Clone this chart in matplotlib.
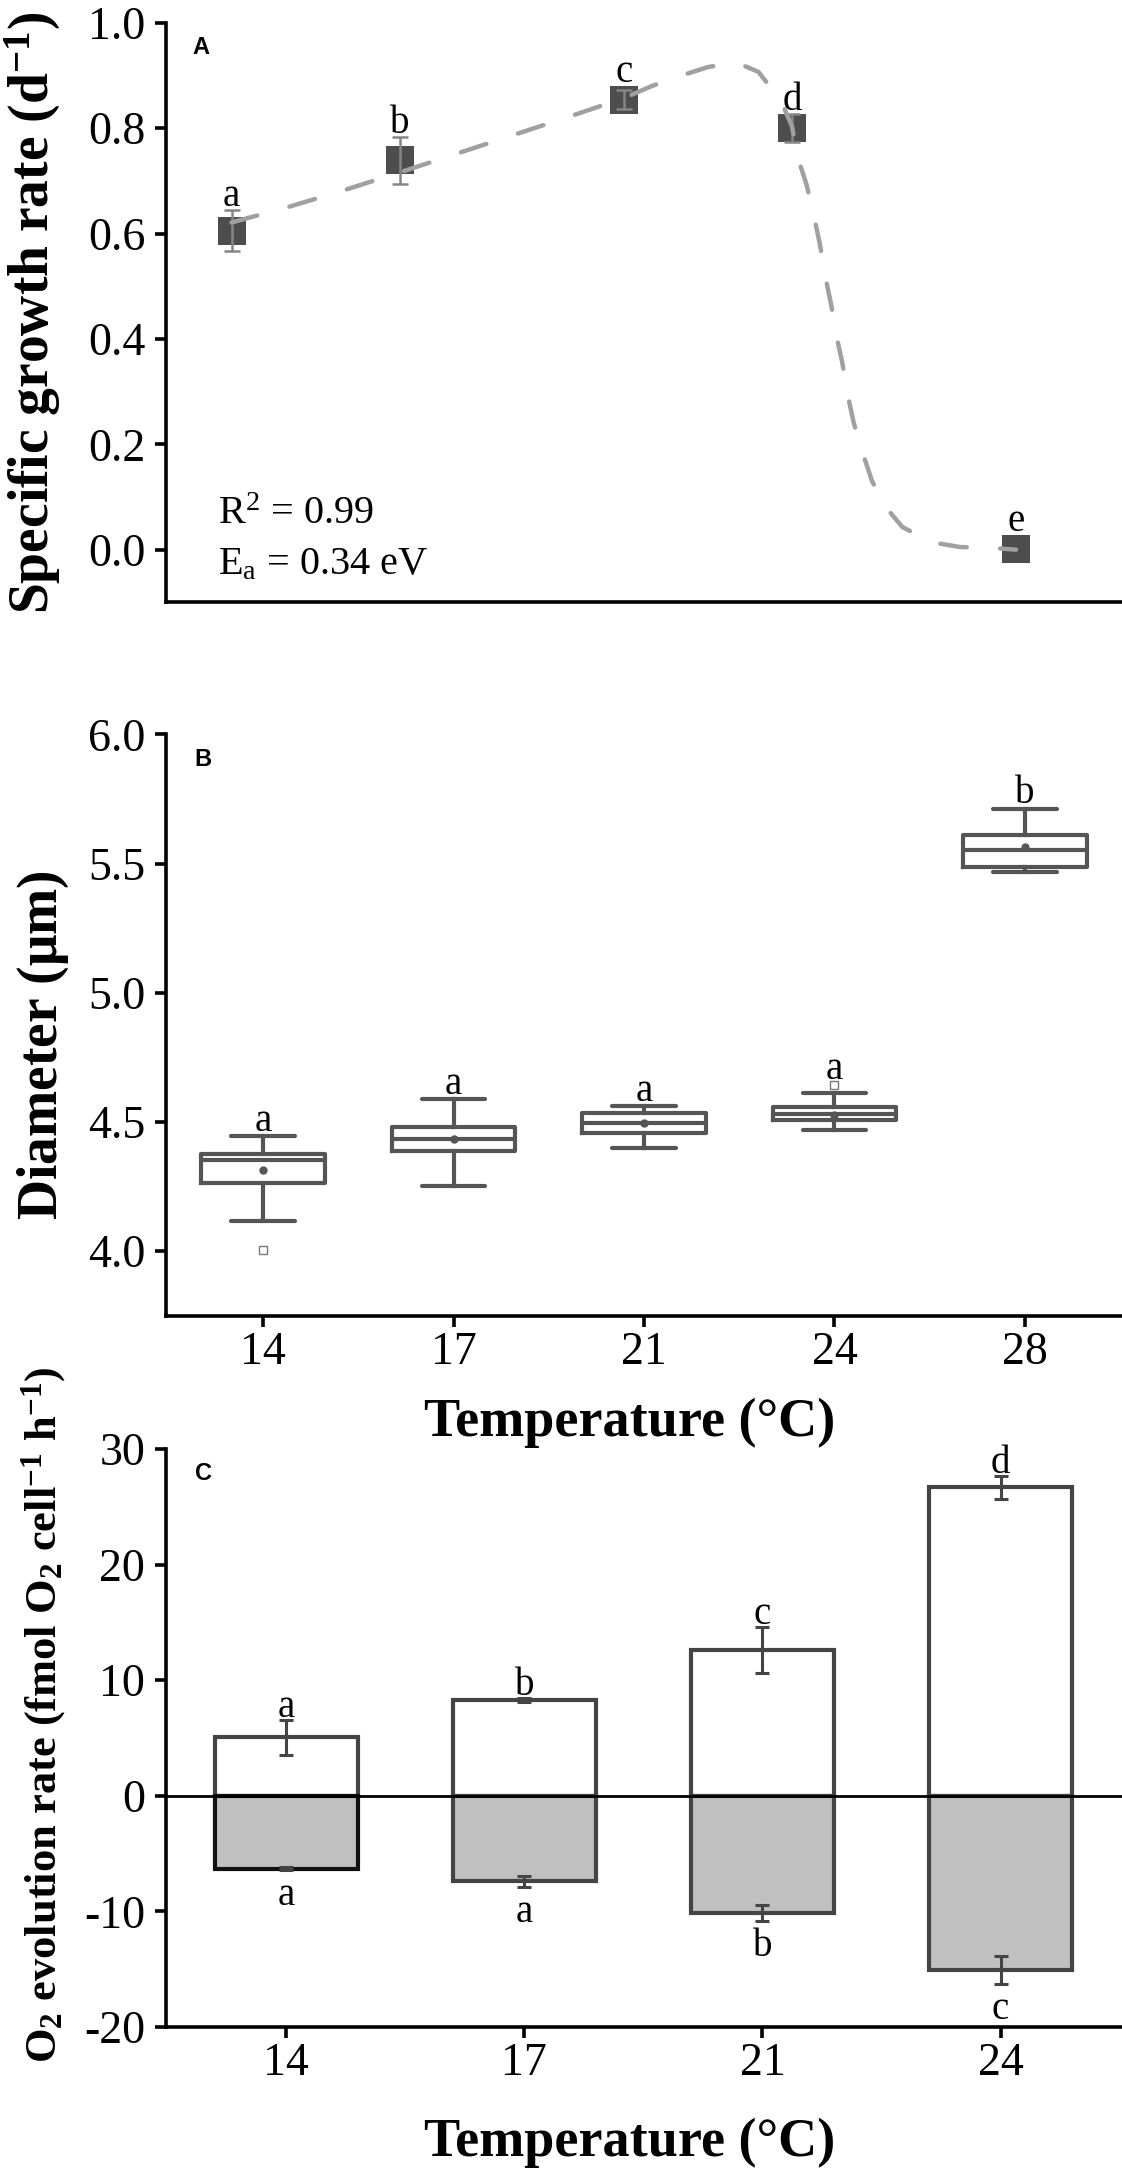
import numpy as np
import matplotlib
matplotlib.use('Agg')
import matplotlib.pyplot as plt

# ---------------- data ----------------
# Panel A: specific growth rate
growth_temp = [14, 17, 21, 24, 28]
growth_rate = [0.605, 0.739, 0.854, 0.800, 0.001]
growth_err = [0.039, 0.044, 0.018, 0.027, 0.0]
growth_letters = ['a', 'b', 'c', 'd', 'e']
fit_temp = [14.0, 15.0, 16.0, 17.0, 18.0, 19.0, 20.0, 21.0, 21.5, 22.0, 22.5,
            23.0, 23.4, 23.8, 24.0, 24.1, 24.26, 24.4, 24.5, 24.6, 24.7, 24.8,
            24.9, 25.0, 25.1, 25.27, 25.43, 25.68, 25.97, 26.5, 27.0, 27.6, 28.0]
fit_rate = [0.621, 0.650, 0.682, 0.716, 0.751, 0.786, 0.821, 0.857, 0.880,
            0.899, 0.916, 0.925, 0.907, 0.853, 0.804, 0.746, 0.693, 0.630,
            0.579, 0.516, 0.465, 0.403, 0.354, 0.291, 0.242, 0.181, 0.130,
            0.080, 0.043, 0.014, 0.005, 0.003, 0.0]
r2_text = 'R$^{2}$ = 0.99'
ea_text = 'E$_{\\mathrm{a}}$ = 0.34 eV'

# Panel B: diameter box plots
diam_temps = ['14', '17', '21', '24', '28']
diam_q1 = [4.265, 4.387, 4.457, 4.509, 5.488]
diam_med = [4.352, 4.435, 4.496, 4.530, 5.553]
diam_q3 = [4.376, 4.481, 4.536, 4.558, 5.611]
diam_lo = [4.118, 4.253, 4.400, 4.467, 5.466]
diam_hi = [4.445, 4.587, 4.561, 4.613, 5.712]
diam_mean = [4.313, 4.433, 4.495, 4.527, 5.565]
diam_fliers = [[4.003], [], [], [4.644], []]
diam_letters = ['a', 'a', 'a', 'a', 'b']

# Panel C: O2 evolution
o2_temps = ['14', '17', '21', '24']
photo = [5.05, 8.3, 12.6, 26.7]
photo_err = [1.55, 0.15, 2.0, 1.0]
photo_letters = ['a', 'b', 'c', 'd']
resp = [-6.3, -7.41, -10.15, -15.05]
resp_err = [0.1, 0.45, 0.7, 1.2]
resp_letters = ['a', 'a', 'b', 'c']

# ---------------- style ----------------
plt.rcParams['font.family'] = ['Liberation Serif', 'DejaVu Serif']
plt.rcParams['mathtext.fontset'] = 'custom'
plt.rcParams['mathtext.rm'] = 'Liberation Serif'
plt.rcParams['mathtext.it'] = 'Liberation Serif:italic'
plt.rcParams['mathtext.bf'] = 'Liberation Serif:bold'
plt.rcParams['axes.unicode_minus'] = False

TICK_FS = 33
LAB_FS = 40
LET_FS = 28
SPINE_LW = 2.6

fig = plt.figure(figsize=(11.22, 21.73), dpi=100)
left, width = 0.14795, 0.85205
axA = fig.add_axes([left, 0.7228, width, 0.2667])
axB = fig.add_axes([left, 0.39457, width, 0.26742])
axC = fig.add_axes([left, 0.06719, width, 0.26599])

for ax in (axA, axB, axC):
    for s in ('top', 'right'):
        ax.spines[s].set_visible(False)
    for s in ('left', 'bottom'):
        ax.spines[s].set_linewidth(SPINE_LW)
    ax.tick_params(axis='both', direction='out', length=8, width=SPINE_LW,
                   labelsize=TICK_FS)
    ax.tick_params(axis='y', pad=7)
    ax.tick_params(axis='x', pad=3.5)

# ---------------- Panel A ----------------
axA.plot(growth_temp, growth_rate, 's', ms=20, color='#4d4d4d', mew=0, zorder=2)
err_idx = [i for i, e in enumerate(growth_err) if e > 0]
axA.errorbar([growth_temp[i] for i in err_idx], [growth_rate[i] for i in err_idx],
             yerr=[growth_err[i] for i in err_idx], fmt='none',
             ecolor='#858585', elinewidth=1.8, capsize=5.8, capthick=1.8, zorder=3)
axA.plot(fit_temp, fit_rate, color='#a0a0a0', lw=3.2, dashes=(6, 7.5),
         dash_capstyle='round', zorder=4)
for t, v, e, l in zip(growth_temp, growth_rate, growth_err, growth_letters):
    top = max(v + e, v + 0.0265)
    axA.annotate(l, (t, top), xytext=(0, 3), textcoords='offset points',
                 ha='center', va='baseline', fontsize=LET_FS)
axA.set_xlim(12.83, 29.89)
axA.set_ylim(-0.1, 1.0)
axA.set_yticks([0.0, 0.2, 0.4, 0.6, 0.8, 1.0])
axA.set_yticklabels(['%.1f' % v for v in [0.0, 0.2, 0.4, 0.6, 0.8, 1.0]])
axA.tick_params(axis='x', length=0, labelbottom=False)
axA.text(0.0544, 0.135, r2_text, transform=axA.transAxes, fontsize=29,
         va='baseline', ha='left')
axA.text(0.0544, 0.0488, ea_text, transform=axA.transAxes, fontsize=29,
         va='baseline', ha='left')
axA.text(-0.139, 0.5, r'Specific growth rate (d$^{\mathbf{-1}}$)',
         transform=axA.transAxes, rotation=90, ha='center', va='center',
         fontsize=LAB_FS, fontweight='bold')
axA.text(0.028, 0.978, 'A', transform=axA.transAxes, ha='left', va='top',
         fontsize=17, fontweight='bold', family='Liberation Sans')

# ---------------- Panel B ----------------
stats = []
for i in range(len(diam_temps)):
    stats.append(dict(med=diam_med[i], q1=diam_q1[i], q3=diam_q3[i],
                      whislo=diam_lo[i], whishi=diam_hi[i], mean=diam_mean[i],
                      fliers=diam_fliers[i], label=diam_temps[i]))
bc = '#555555'
pos = np.arange(len(diam_temps))
axB.bxp(stats, positions=pos, widths=0.65, capwidths=0.335, showmeans=True,
        boxprops=dict(color=bc, lw=3, solid_joinstyle='round'),
        whiskerprops=dict(color=bc, lw=3),
        capprops=dict(color=bc, lw=3, solid_capstyle='round'),
        medianprops=dict(color=bc, lw=3),
        meanprops=dict(marker='o', markerfacecolor=bc, markeredgecolor=bc,
                       markersize=5),
        flierprops=dict(marker='s', markerfacecolor='white',
                        markeredgecolor='#777777', markersize=6, mew=1))
for i, l in enumerate(diam_letters):
    top = max([diam_hi[i]] + diam_fliers[i])
    axB.annotate(l, (pos[i], top), xytext=(0, 4), textcoords='offset points',
                 ha='center', va='baseline', fontsize=LET_FS)
axB.set_xlim(-0.51, 4.51)
axB.set_ylim(3.75, 6.0)
axB.set_yticks([4.0, 4.5, 5.0, 5.5, 6.0])
axB.set_yticklabels(['%.1f' % v for v in [4.0, 4.5, 5.0, 5.5, 6.0]])
axB.set_xticks(pos)
axB.set_xticklabels(diam_temps)
axB.text(-0.128, 0.466, r'Diameter ($\mathbf{\mu}$m)', transform=axB.transAxes,
         rotation=90, ha='center', va='center', fontsize=LAB_FS,
         fontweight='bold')
axB.text(0.485, -0.185, 'Temperature (\u00b0C)', transform=axB.transAxes,
         ha='center', va='center', fontsize=39, fontweight='bold')
axB.text(0.030, 0.977, 'B', transform=axB.transAxes, ha='left', va='top',
         fontsize=17, fontweight='bold', family='Liberation Sans')

# ---------------- Panel C ----------------
xc = np.arange(len(o2_temps))
resp_edges = ['#111111', '#444444', '#444444', '#444444']
axC.bar(xc, photo, width=0.6, color='white', edgecolor='#444444', lw=3, zorder=2)
axC.bar(xc, resp, width=0.6, color='#c0c0c0', edgecolor=resp_edges, lw=3, zorder=2)
axC.errorbar(xc, photo, yerr=photo_err, fmt='none', ecolor='#444444',
             elinewidth=2.2, capsize=5, capthick=2.2, zorder=3)
axC.errorbar(xc, resp, yerr=resp_err, fmt='none', ecolor='#444444',
             elinewidth=2.2, capsize=5, capthick=2.2, zorder=3)
axC.axhline(0, color='black', lw=2, zorder=4)
for i in range(len(o2_temps)):
    axC.annotate(photo_letters[i], (xc[i], photo[i] + photo_err[i]),
                 xytext=(0, 2), textcoords='offset points', ha='center',
                 va='baseline', fontsize=LET_FS, zorder=5)
    axC.annotate(resp_letters[i], (xc[i], resp[i] - resp_err[i]),
                 xytext=(0, -5), textcoords='offset points', ha='center',
                 va='top', fontsize=LET_FS, zorder=5)
axC.set_xlim(-0.505, 3.51)
axC.set_ylim(-20, 30)
axC.set_yticks([-20, -10, 0, 10, 20, 30])
axC.set_xticks(xc)
axC.set_xticklabels(o2_temps)
axC.text(-0.128, 0.54,
         r'O$_\mathbf{2}$ evolution rate (fmol O$_\mathbf{2}$ cell$^\mathbf{-1}$ h$^\mathbf{-1}$)',
         transform=axC.transAxes, rotation=90, ha='center', va='center',
         fontsize=32, fontweight='bold')
axC.text(0.485, -0.2007, 'Temperature (\u00b0C)', transform=axC.transAxes,
         ha='center', va='center', fontsize=39, fontweight='bold')
axC.text(0.030, 0.978, 'C', transform=axC.transAxes, ha='left', va='top',
         fontsize=17, fontweight='bold', family='Liberation Sans')

fig.savefig('out.png', dpi=100)
